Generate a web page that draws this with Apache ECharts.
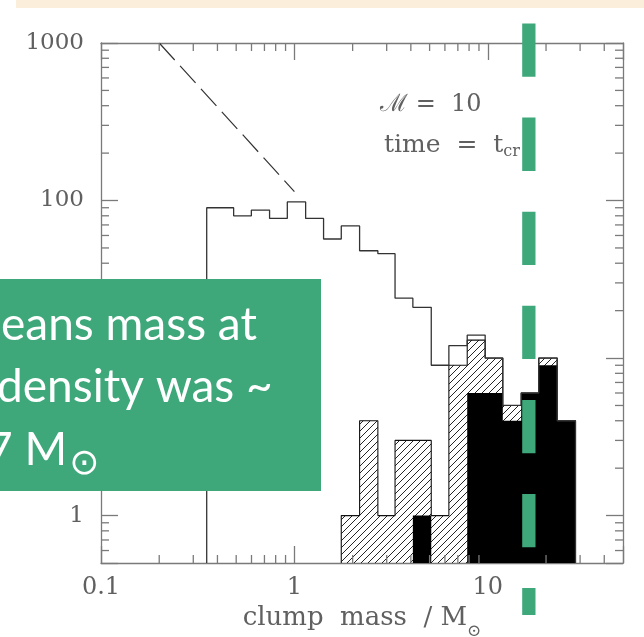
<!DOCTYPE html>
<html>
<head>
<meta charset="utf-8">
<script src="https://cdn.jsdelivr.net/npm/echarts@6.0.0/dist/echarts.min.js"></script>
<style>
  html, body { margin: 0; padding: 0; background: #ffffff; }
  #chart { width: 644px; height: 637px; }
</style>
</head>
<body>
<div id="chart"></div>
<script>
// Clump mass function: bin edges in solar masses, counts per bin
const binEdges = [0.352, 0.485, 0.599, 0.744, 0.919, 1.143, 1.415, 1.747, 2.173, 2.701,
                  3.314, 4.097, 5.10, 6.29, 7.826, 9.69, 11.95, 14.88, 18.34, 22.84, 28.4];
const allClumps     = [90, 80, 87, 77, 98, 77, 57, 69, 48, 46, 24, 21, 9, 12, 14, 10, 5, 6, 10, 4];
const hatchedClumps = [0, 0, 0, 0, 0, 0, 0, 1, 4, 1, 3, 3, 1, 9, 13, 10, 5, 6, 10, 4];
const blackClumps   = [0, 0, 0, 0, 0, 0, 0, 0, 0, 0, 0, 1, 0, 0, 6, 6, 4, 6, 9, 4];

// Reference power-law slope (dashed)
const slopeMass  = [0.2, 1.0];
const slopeCount = [1000, 114];

// Jeans mass at mean density
const jeansMass = 16.3;

// Axis tick labels and minor tick values
const xTickLabels = ['0.1', '1', '10'];
const yTickLabels = ['1', '10', '100', '1000'];
const xMinorTicks = [0.2, 0.3, 0.4, 0.5, 0.6, 0.7, 0.8, 0.9, 2, 3, 4, 5, 6, 7, 8, 9, 20, 30, 40];
const yMinorTicks = [0.6, 0.7, 0.8, 0.9, 2, 3, 4, 5, 6, 7, 8, 9, 20, 30, 40, 50, 60, 70, 80, 90,
                     200, 300, 400, 500, 600, 700, 800, 900];

const X_MIN = 0.1, X_MAX = 50, Y_MIN = 0.5, Y_MAX = 1000;

const serif = "'DejaVu Serif', 'Liberation Serif', serif";
const sans = "Lato, 'Open Sans', sans-serif";
const axisGray = '#7a7a7a';
const textGray = '#606060';
const green = '#3ea87a';

function pickLabel(labels) {
  return function (v) {
    for (const s of labels) {
      if (Math.abs(Math.log10(v) - Math.log10(Number(s))) < 1e-6) return s;
    }
    return '';
  };
}

// Step outline of a histogram between bins [first, last]
function stepOutline(counts, first, last) {
  const pts = [[binEdges[first], Y_MIN]];
  for (let i = first; i <= last; i++) {
    const c = Math.max(counts[i], Y_MIN);
    pts.push([binEdges[i], c]);
    pts.push([binEdges[i + 1], c]);
  }
  pts.push([binEdges[last + 1], Y_MIN]);
  return pts;
}

// Diagonal hatch tile
const tile = document.createElement('canvas');
tile.width = 7; tile.height = 7;
(function () {
  const g = tile.getContext('2d');
  g.strokeStyle = '#262626';
  g.lineWidth = 1;
  g.beginPath();
  g.moveTo(-1, 8); g.lineTo(8, -1);
  g.moveTo(-1, 1); g.lineTo(1, -1);
  g.moveTo(6, 8); g.lineTo(8, 6);
  g.stroke();
})();
const hatch = { image: tile, repeat: 'repeat' };

// Filled histogram area drawn as one polygon through the axis scales
function filledHistogram(counts, first, last, fill, z) {
  const pts = stepOutline(counts, first, last);
  return {
    type: 'custom', xAxisIndex: 0, yAxisIndex: 0, z: z, silent: true,
    data: pts, encode: { x: 0, y: 1 },
    renderItem: function (params, api) {
      if (params.dataIndex !== 0) return null;
      return {
        type: 'polygon',
        shape: { points: pts.map(p => api.coord(p)) },
        style: { fill: fill, stroke: null }
      };
    }
  };
}

const frameLine = { show: true, lineStyle: { color: axisGray, width: 1.3 } };
const majorTick = { show: true, inside: true, length: 17, lineStyle: { color: axisGray, width: 1.3 } };

const chart = echarts.init(document.getElementById('chart'));

chart.setOption({
  animation: false,
  backgroundColor: '#ffffff',
  grid: { left: 101, top: 43, width: 522, height: 520, containLabel: false, outerBoundsMode: 'none' },
  xAxis: [
    {
      type: 'log', logBase: 10, min: X_MIN, max: X_MAX, position: 'bottom',
      axisLine: frameLine, axisTick: majorTick, splitLine: { show: false },
      axisLabel: { formatter: pickLabel(xTickLabels), margin: 13, fontFamily: serif, fontSize: 24, color: textGray },
      name: '{n|clump  mass  / M}{s|⊙}',
      nameLocation: 'middle', nameGap: 32,
      nameTextStyle: {
        rich: {
          n: { fontFamily: serif, fontSize: 26, color: textGray, lineHeight: 44 },
          s: { fontFamily: serif, fontSize: 17, color: textGray, lineHeight: 17, verticalAlign: 'bottom' }
        }
      }
    },
    {
      type: 'log', logBase: 10, min: X_MIN, max: X_MAX, position: 'top',
      axisLine: frameLine, axisTick: majorTick, splitLine: { show: false },
      axisLabel: { show: false }
    }
  ],
  yAxis: [
    {
      type: 'log', logBase: 10, min: Y_MIN, max: Y_MAX, position: 'left',
      axisLine: frameLine, axisTick: majorTick, splitLine: { show: false },
      axisLabel: { formatter: pickLabel(yTickLabels), margin: 17, fontFamily: serif, fontSize: 23, color: textGray }
    },
    {
      type: 'log', logBase: 10, min: Y_MIN, max: Y_MAX, position: 'right',
      axisLine: frameLine, axisTick: majorTick, splitLine: { show: false },
      axisLabel: { show: false }
    }
  ],
  series: [
    filledHistogram(hatchedClumps, 7, 19, hatch, 2),
    filledHistogram(blackClumps, 11, 19, '#000000', 3),
    {
      type: 'line', xAxisIndex: 0, yAxisIndex: 0, z: 4,
      data: stepOutline(hatchedClumps, 7, 19), symbol: 'none',
      lineStyle: { color: '#111111', width: 1.1 }
    },
    {
      type: 'line', xAxisIndex: 0, yAxisIndex: 0, z: 5,
      data: stepOutline(allClumps, 0, 19), symbol: 'none',
      lineStyle: { color: '#333333', width: 1.3 }
    },
    {
      type: 'line', xAxisIndex: 0, yAxisIndex: 0, z: 5,
      data: slopeMass.map((m, i) => [m, slopeCount[i]]), symbol: 'none',
      lineStyle: { color: '#333333', width: 1.2, type: [23, 8] }
    },
    {
      // minor ticks along bottom and top
      type: 'custom', xAxisIndex: 0, yAxisIndex: 0, z: 6, silent: true,
      data: xMinorTicks.map(v => [v, Y_MIN]), encode: { x: 0, y: 1 },
      renderItem: function (params, api) {
        const x = api.coord([api.value(0), Y_MIN])[0];
        const cs = params.coordSys;
        const style = { stroke: axisGray, lineWidth: 1.3 };
        return {
          type: 'group', children: [
            { type: 'line', shape: { x1: x, y1: cs.y + cs.height, x2: x, y2: cs.y + cs.height - 8 }, style: style },
            { type: 'line', shape: { x1: x, y1: cs.y, x2: x, y2: cs.y + 8 }, style: style }
          ]
        };
      }
    },
    {
      // minor ticks along left and right
      type: 'custom', xAxisIndex: 0, yAxisIndex: 0, z: 6, silent: true,
      data: yMinorTicks.map(v => [X_MIN, v]), encode: { x: 0, y: 1 },
      renderItem: function (params, api) {
        const y = api.coord([X_MIN, api.value(1)])[1];
        const cs = params.coordSys;
        const style = { stroke: axisGray, lineWidth: 1.3 };
        return {
          type: 'group', children: [
            { type: 'line', shape: { x1: cs.x, y1: y, x2: cs.x + 8, y2: y }, style: style },
            { type: 'line', shape: { x1: cs.x + cs.width, y1: y, x2: cs.x + cs.width - 8, y2: y }, style: style }
          ]
        };
      }
    },
    {
      // Jeans mass marker, dashed green, running past the frame
      type: 'custom', xAxisIndex: 0, yAxisIndex: 0, z: 20, silent: true, clip: false,
      data: [[jeansMass, Y_MAX]], encode: { x: 0, y: 1 },
      renderItem: function (params, api) {
        const x = api.coord([api.value(0), Y_MAX])[0];
        const cs = params.coordSys;
        return {
          type: 'line',
          shape: { x1: x, y1: cs.y - 19.5, x2: x, y2: cs.y + cs.height + 52 },
          style: { stroke: green, lineWidth: 13.3, lineDash: [53.3, 40.8], lineCap: 'butt' }
        };
      }
    }
  ],
  graphic: [
    { type: 'rect', left: 16, top: 0, z: 1, shape: { width: 628, height: 8 }, style: { fill: '#fbeedb' } },
    {
      type: 'text', x: 380, y: 105, z: 10,
      style: { text: 'ℳ =  10', font: "24px 'DejaVu Serif', 'Liberation Serif', serif", fill: textGray, verticalAlign: 'middle' }
    },
    {
      type: 'text', x: 384, y: 145, z: 10,
      style: {
        text: '{a|time  =  t}{b|cr}',
        verticalAlign: 'middle',
        rich: {
          a: { fontFamily: serif, fontSize: 25, fill: textGray, lineHeight: 30 },
          b: { fontFamily: serif, fontSize: 16, fill: textGray, lineHeight: 16, verticalAlign: 'bottom' }
        }
      }
    },
    { type: 'rect', z: 100, shape: { x: 0, y: 279, width: 321, height: 212 }, style: { fill: green } },
    { type: 'text', z: 101, x: 1, y: 325, style: { text: 'eans mass at', font: '46px ' + sans, fill: '#ffffff', verticalAlign: 'middle' } },
    { type: 'text', z: 101, x: -3, y: 387, style: { text: 'density was ~', font: '46px ' + sans, fill: '#ffffff', verticalAlign: 'middle' } },
    {
      type: 'text', z: 101, x: -14, y: 450,
      style: {
        text: '{a|7 M}{b|⊙}', verticalAlign: 'middle',
        rich: {
          a: { fontFamily: sans, fontSize: 46, fill: '#ffffff', lineHeight: 66 },
          b: { fontFamily: "'DejaVu Sans', sans-serif", fontSize: 36, fill: '#ffffff', lineHeight: 36, verticalAlign: 'bottom', padding: [0, 0, 0, 2] }
        }
      }
    }
  ]
});
</script>
</body>
</html>
